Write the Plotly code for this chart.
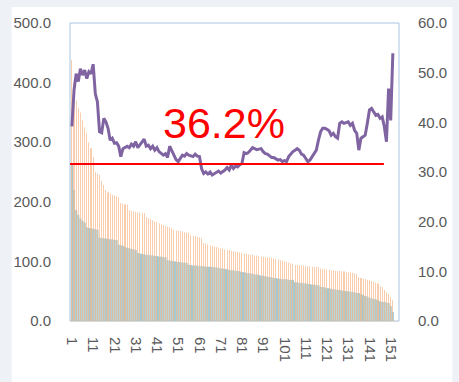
import plotly.graph_objects as go

# Category index (1..152)
categories = list(range(1, 153))

# Upper bar series (orange)
series_a = [
    438, 400, 370, 358, 350, 337, 325, 315, 300, 290,
    275, 250, 247, 245, 235, 228, 220, 216, 214, 212,
    210, 209, 208, 198, 197, 196, 195, 186, 185, 184,
    183, 182, 182, 181, 181, 175, 173, 171, 169, 167,
    166, 164, 162, 161, 159, 158, 157, 156, 153, 152,
    151, 150, 150, 149, 148, 148, 144, 143, 142, 141,
    140, 139, 131, 130, 128, 127, 126, 125, 124, 123,
    122, 121, 120, 119, 119, 118, 117, 116, 116, 115,
    114, 113, 113, 112, 111, 111, 110, 110, 109, 108,
    108, 107, 107, 106, 106, 105, 104, 103, 102, 101,
    100, 99, 98, 97, 96, 94, 94, 93, 93, 93,
    92, 92, 92, 91, 91, 91, 90, 88, 87, 87,
    86, 86, 85, 85, 84, 84, 84, 83, 83, 82,
    82, 81, 81, 80, 79, 74, 72, 71, 70, 69,
    68, 67, 66, 64, 63, 58, 57, 52, 48, 45,
    40, 35,
]

# Lower bar series (blue-green)
series_b = [
    262, 220, 186, 178, 172, 168, 165, 157, 156, 155,
    155, 154, 153, 140, 139, 139, 138, 138, 137, 137,
    136, 136, 128, 127, 126, 124, 123, 122, 121, 120,
    119, 114, 113, 113, 112, 111, 111, 110, 110, 109,
    109, 108, 108, 107, 107, 102, 101, 101, 100, 100,
    99, 99, 98, 98, 97, 94, 94, 93, 93, 93,
    92, 92, 92, 91, 91, 91, 91, 90, 90, 89,
    88, 88, 87, 87, 86, 85, 85, 84, 84, 83,
    82, 82, 81, 80, 80, 79, 78, 78, 77, 76,
    76, 75, 74, 74, 73, 72, 72, 71, 71, 70,
    70, 70, 69, 69, 69, 65, 65, 64, 64, 63,
    63, 62, 62, 61, 61, 60, 60, 57, 57, 56,
    55, 55, 54, 53, 53, 52, 52, 51, 51, 50,
    50, 49, 49, 48, 47, 47, 45, 44, 42, 41,
    39, 38, 37, 36, 35, 33, 32, 32, 31, 30,
    25, 15,
]

# Ratio line (percent, right axis)
ratio_pct = [
    39.2, 46.5, 49.8, 48.2, 50.8, 49.5, 50.5, 48.8, 50.2, 49.8,
    51.7, 45.8, 44.1, 38.1, 37.9, 40.8, 40.1, 38.8, 36.4, 36.8,
    35.8, 35.9, 35.2, 33.1, 34.7, 35.0, 35.2, 34.9, 35.6, 35.2,
    36.1, 34.9, 35.5, 36.1, 36.6, 35.2, 35.4, 34.7, 35.2, 34.4,
    34.9, 34.1, 33.8, 33.4, 33.7, 32.9, 35.2, 34.4, 33.5, 32.5,
    32.1, 32.9, 33.4, 33.2, 33.7, 33.4, 33.2, 33.1, 33.6, 33.2,
    33.1, 30.7, 29.7, 30.0, 29.6, 30.0, 29.4, 29.7, 30.0, 30.2,
    29.8, 30.1, 30.4, 30.9, 30.4, 31.4, 30.7, 31.2, 31.0, 31.5,
    31.7, 33.9, 33.7, 33.9, 34.5, 34.9, 34.7, 34.5, 34.6, 34.7,
    34.1, 33.7, 33.6, 33.2, 32.9, 32.9, 32.6, 32.4, 32.5, 32.1,
    32.3, 32.1, 33.1, 33.7, 34.1, 34.4, 34.7, 34.4, 33.6, 33.4,
    32.7, 32.1, 32.4, 33.1, 33.9, 34.4, 36.4, 38.1, 38.8, 38.8,
    38.6, 38.3, 37.4, 37.8, 37.1, 36.8, 39.8, 40.1, 39.8, 40.0,
    40.1, 39.4, 39.8, 38.4, 37.8, 34.4, 36.8, 37.1, 37.4, 39.8,
    42.5, 42.8, 42.1, 41.4, 41.6, 40.8, 41.1, 39.1, 36.1, 46.8,
    40.4, 53.9,
]

# Reference level line (percent, right axis)
ref_x = [0.1, 147.8]
ref_pct = [31.6, 31.6]

headline = "36.2%"

left_ticks = [0, 100, 200, 300, 400, 500]
right_ticks = [0, 10, 20, 30, 40, 50, 60]
x_ticks = list(range(1, 152, 10))

W, H = 459, 382
ML, MR, MT, MB = 70, 50, 23, 61
PW, PH = W - ML - MR, H - MT - MB

def px_x(p):
    return (p - ML) / PW

def px_y(p):
    return (H - MB - p) / PH

tick_font = dict(family="Liberation Sans, Arial, sans-serif", size=15, color="#595959")

fig = go.Figure()
# wide blue-green columns underneath, thin translucent orange columns on top
fig.add_trace(go.Bar(x=categories, y=series_b, width=1.0,
                     marker=dict(color="#a6c8d0", line=dict(width=0)), name="B"))
fig.add_trace(go.Bar(x=categories, y=series_a, width=0.05, opacity=0.68,
                     marker=dict(color="#f5b88a", line=dict(width=0)), name="A"))
fig.add_trace(go.Scatter(x=categories, y=ratio_pct, yaxis="y2", mode="lines",
                         line=dict(color="#8064a2", width=3), name="ratio"))
fig.add_trace(go.Scatter(x=ref_x, y=ref_pct, yaxis="y2", mode="lines",
                         line=dict(color="#ff0000", width=2), name="ref"))

fig.update_layout(
    width=W, height=H,
    margin=dict(l=ML, r=MR, t=MT, b=MB, pad=0),
    paper_bgcolor="#eef2f7",
    plot_bgcolor="rgba(0,0,0,0)",
    showlegend=False,
    barmode="overlay",
    xaxis=dict(range=[0.1, 154.9], tickvals=x_ticks, ticktext=[str(v) for v in x_ticks],
               tickangle=90, tickfont=tick_font, showgrid=False, zeroline=False,
               showline=True, linecolor="#d9d9d9", linewidth=1, ticks="",
               ticklabelstandoff=12),
    yaxis=dict(range=[0, 500], tickvals=left_ticks, tickformat=".1f", tickfont=tick_font,
               showgrid=False, zeroline=False, showline=False, ticks="",
               ticklabelstandoff=18),
    yaxis2=dict(range=[0, 60], tickvals=right_ticks, tickformat=".1f", ticksuffix="%",
                overlaying="y", side="right", tickfont=tick_font, showgrid=False,
                zeroline=False, showline=False, ticks="", ticklabelstandoff=18),
    shapes=[
        dict(type="rect", xref="paper", yref="paper", x0=px_x(10), x1=px_x(W + 5),
             y0=px_y(H + 5), y1=px_y(7), fillcolor="white", line=dict(width=0), layer="below"),
        dict(type="rect", xref="paper", yref="paper", x0=0, x1=1, y0=0, y1=1,
             line=dict(color="#a9c4e3", width=1), fillcolor="rgba(0,0,0,0)", layer="below"),
    ],
    annotations=[
        dict(text=headline, xref="paper", yref="paper", x=px_x(229), y=px_y(97),
             showarrow=False, font=dict(family="Liberation Sans, Arial, sans-serif",
                                        size=43, color="#ff0000")),
    ],
)

fig.write_html("out.html")
